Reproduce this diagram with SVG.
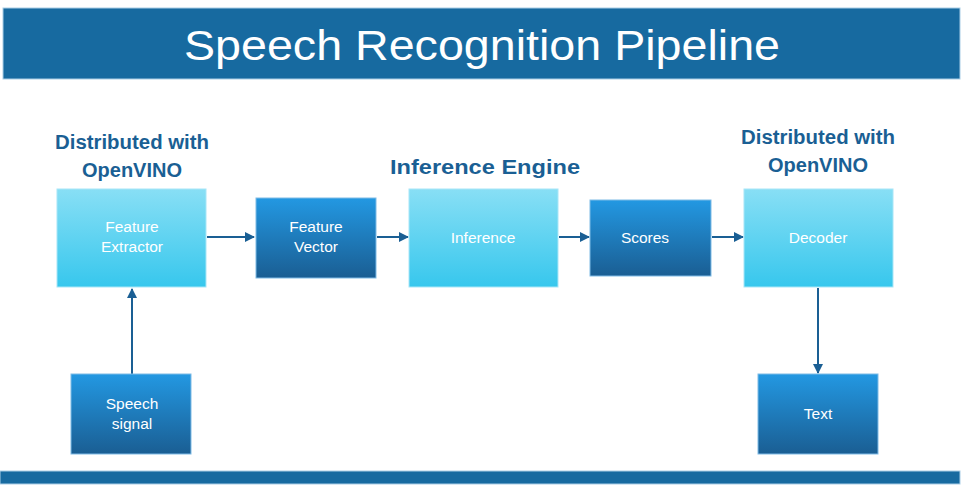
<svg xmlns="http://www.w3.org/2000/svg" width="964" height="487" viewBox="0 0 964 487">
<style>
.light{fill:url(#gl);stroke:#a8e6f7;stroke-width:1}
.dark{fill:url(#gd);stroke:#7fbbe6;stroke-width:1}
.lbl{font-family:"Liberation Sans",Arial,sans-serif;font-size:15.5px;fill:#ffffff;text-anchor:middle}
.hd{font-family:"Liberation Sans",Arial,sans-serif;font-weight:bold;font-size:20px;fill:#1a5f94;text-anchor:middle}
.conn{stroke:#1a5f94;stroke-width:2;fill:none;marker-end:url(#ah)}
</style>
<defs>
<linearGradient id="gl" x1="0" y1="0" x2="0" y2="1"><stop offset="0" stop-color="#88dff5"/><stop offset="1" stop-color="#37c7ed"/></linearGradient>
<linearGradient id="gd" x1="0" y1="0" x2="0" y2="1"><stop offset="0" stop-color="#2398e2"/><stop offset="1" stop-color="#1a5e93"/></linearGradient>
<marker id="ah" markerWidth="10" markerHeight="10" refX="9" refY="5" orient="auto" markerUnits="userSpaceOnUse"><path d="M0,0 L10,5 L0,10 Z" fill="#1a5f94"/></marker>
</defs>
<rect x="3" y="8" width="957" height="71" fill="#176aa0" stroke="#a9cde6" stroke-width="1"/>
<text x="482" y="60" font-family="'Liberation Sans',Arial,sans-serif" font-size="42" fill="#ffffff" text-anchor="middle" textLength="596" lengthAdjust="spacingAndGlyphs">Speech Recognition Pipeline</text>
<rect x="0" y="471" width="960" height="13" fill="#176aa0" stroke="#a9cde6" stroke-width="1"/>
<text class="hd" x="132" y="149" textLength="154" lengthAdjust="spacingAndGlyphs">Distributed with</text>
<text class="hd" x="132" y="177">OpenVINO</text>
<text class="hd" x="485" y="174" font-size="23" textLength="190" lengthAdjust="spacingAndGlyphs">Inference Engine</text>
<text class="hd" x="818" y="144" textLength="154" lengthAdjust="spacingAndGlyphs">Distributed with</text>
<text class="hd" x="818" y="172">OpenVINO</text>
<g id="connectors">
<line class="conn" x1="207" y1="237" x2="254" y2="237"/>
<line class="conn" x1="377" y1="237" x2="408" y2="237"/>
<line class="conn" x1="559" y1="237" x2="589" y2="237"/>
<line class="conn" x1="712" y1="237" x2="743" y2="237"/>
<line class="conn" x1="132" y1="374" x2="132" y2="289"/>
<line class="conn" x1="818" y1="288" x2="818" y2="373"/>
</g>
<g id="feature-extractor"><rect class="light" x="57" y="189" width="149" height="98"/><text class="lbl" x="132" y="232">Feature</text><text class="lbl" x="132" y="252">Extractor</text></g>
<g id="feature-vector"><rect class="dark" x="256" y="198" width="120" height="80"/><text class="lbl" x="316" y="232">Feature</text><text class="lbl" x="316" y="252">Vector</text></g>
<g id="inference"><rect class="light" x="409" y="189" width="149" height="98"/><text class="lbl" x="483" y="243">Inference</text></g>
<g id="scores"><rect class="dark" x="590" y="200" width="121" height="76"/><text class="lbl" x="645" y="243">Scores</text></g>
<g id="decoder"><rect class="light" x="744" y="189" width="149" height="98"/><text class="lbl" x="818" y="243">Decoder</text></g>
<g id="speech-signal"><rect class="dark" x="71" y="374" width="120" height="80"/><text class="lbl" x="132" y="409">Speech</text><text class="lbl" x="132" y="429">signal</text></g>
<g id="text"><rect class="dark" x="758" y="374" width="120" height="80"/><text class="lbl" x="818" y="419">Text</text></g>
</svg>
